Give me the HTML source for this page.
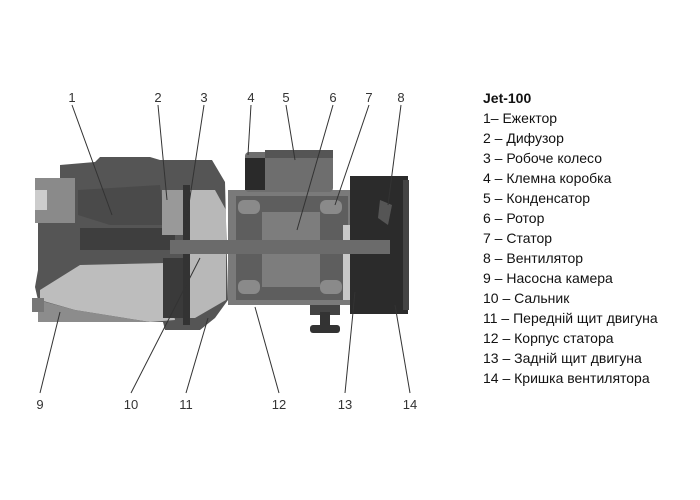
<!DOCTYPE html>
<html><head><meta charset="utf-8"><style>
body{margin:0;background:#fff;width:700px;height:500px;overflow:hidden;font-family:"Liberation Sans",sans-serif}
.leg{position:absolute;left:483px;top:88px;font-size:14px;line-height:20px;color:#111}
.leg b{font-weight:bold}
</style></head><body>
<svg width="700" height="500" style="position:absolute;left:0;top:0">
<!-- pump body -->
<polygon points="60,165 95,162 100,157 150,157 160,160 212,160 225,182 228,300 215,318 200,330 165,330 163,322 38,322 38,300 35,287 38,270 38,180 60,178" fill="#555"/>
<rect x="35" y="178" width="40" height="45" fill="#8a8a8a"/>
<rect x="35" y="190" width="12" height="20" fill="#ccc"/>
<polygon points="40,290 80,265 165,263 175,320 150,322 75,310 40,300" fill="#bdbdbd"/>
<polygon points="38,300 75,310 150,322 38,322" fill="#8c8c8c"/>
<rect x="32" y="298" width="12" height="14" fill="#777"/>
<polygon points="78,190 160,185 165,225 110,225 78,215" fill="#4a4a4a"/>
<rect x="80" y="228" width="95" height="22" fill="#3e3e3e"/>
<rect x="162" y="190" width="22" height="45" fill="#999"/>
<rect x="163" y="258" width="20" height="60" fill="#3a3a3a"/>
<polygon points="190,190 215,190 226,210 226,300 195,318 190,318" fill="#b8b8b8"/>
<rect x="183" y="185" width="7" height="140" fill="#333"/>
<!-- motor -->
<rect x="228" y="190" width="128" height="115" fill="#7a7a7a"/>
<rect x="236" y="196" width="112" height="104" fill="#5e5e5e"/>
<rect x="238" y="200" width="22" height="14" rx="6" fill="#8a8a8a"/>
<rect x="238" y="280" width="22" height="14" rx="6" fill="#8a8a8a"/>
<rect x="320" y="200" width="22" height="14" rx="6" fill="#8a8a8a"/>
<rect x="320" y="280" width="22" height="14" rx="6" fill="#8a8a8a"/>
<rect x="262" y="212" width="58" height="75" fill="#7d7d7d"/>
<rect x="343" y="225" width="15" height="75" fill="#c8c8c8"/>
<!-- terminal box -->
<rect x="245" y="152" width="88" height="40" rx="4" fill="#6e6e6e"/>
<rect x="245" y="158" width="20" height="32" fill="#2a2a2a"/>
<rect x="265" y="150" width="68" height="8" fill="#555"/>
<!-- fan cover -->
<rect x="350" y="176" width="58" height="138" fill="#2b2b2b"/>
<rect x="403" y="180" width="6" height="130" fill="#444"/>
<polygon points="380,200 392,205 388,225 378,218" fill="#555"/>
<!-- shaft -->
<rect x="170" y="240" width="220" height="14" fill="#6b6b6b"/>
<rect x="310" y="305" width="30" height="10" fill="#444"/>
<rect x="320" y="312" width="10" height="14" fill="#333"/>
<rect x="310" y="325" width="30" height="8" rx="3" fill="#333"/>
<!-- leader lines -->
<g stroke="#333" stroke-width="1" fill="none">
<line x1="72" y1="105" x2="112" y2="215"/>
<line x1="158" y1="105" x2="167" y2="200"/>
<line x1="204" y1="105" x2="185" y2="230"/>
<line x1="251" y1="105" x2="248" y2="155"/>
<line x1="286" y1="105" x2="295" y2="160"/>
<line x1="333" y1="105" x2="297" y2="230"/>
<line x1="369" y1="105" x2="335" y2="205"/>
<line x1="401" y1="105" x2="388" y2="205"/>
<line x1="40" y1="393" x2="60" y2="312"/>
<line x1="131" y1="393" x2="200" y2="258"/>
<line x1="186" y1="393" x2="208" y2="318"/>
<line x1="279" y1="393" x2="255" y2="307"/>
<line x1="345" y1="393" x2="355" y2="292"/>
<line x1="410" y1="393" x2="395" y2="305"/>
</g>
<g font-family="Liberation Sans,sans-serif" font-size="13" fill="#333" text-anchor="middle">
<text x="72" y="102">1</text><text x="158" y="102">2</text><text x="204" y="102">3</text><text x="251" y="102">4</text>
<text x="286" y="102">5</text><text x="333" y="102">6</text><text x="369" y="102">7</text><text x="401" y="102">8</text>
<text x="40" y="409">9</text><text x="131" y="409">10</text><text x="186" y="409">11</text><text x="279" y="409">12</text>
<text x="345" y="409">13</text><text x="410" y="409">14</text>
</g>
</svg>
<div class="leg"><b>Jet-100</b><br>1– Ежектор<br>2 – Дифузор<br>3 – Робоче колесо<br>4 – Клемна коробка<br>5 – Конденсатор<br>6 – Ротор<br>7 – Статор<br>8 – Вентилятор<br>9 – Насосна камера<br>10 – Сальник<br>11 – Передній щит двигуна<br>12 – Корпус статора<br>13 – Задній щит двигуна<br>14 – Кришка вентилятора</div>
</body></html>
